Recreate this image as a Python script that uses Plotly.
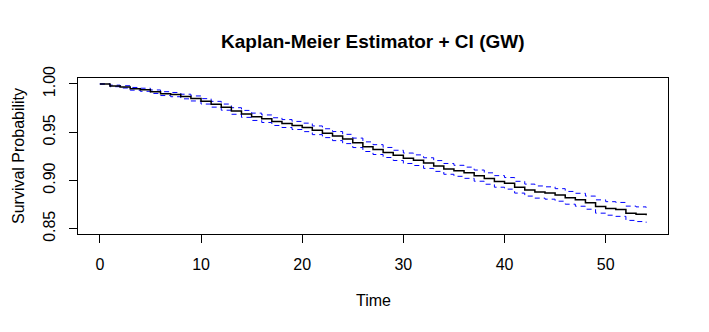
import plotly.graph_objects as go

time = list(range(0, 55))
surv = [1.000, 0.998, 0.997, 0.995, 0.994, 0.992, 0.990, 0.989, 0.987, 0.985,
        0.982, 0.979, 0.976, 0.972, 0.969, 0.966, 0.964, 0.961, 0.959, 0.957,
        0.955, 0.952, 0.949, 0.946, 0.943, 0.939, 0.935, 0.932, 0.929, 0.926,
        0.923, 0.921, 0.918, 0.915, 0.912, 0.910, 0.908, 0.905, 0.902, 0.899,
        0.897, 0.893, 0.890, 0.888, 0.887, 0.885, 0.882, 0.880, 0.877, 0.873,
        0.871, 0.870, 0.866, 0.865, 0.864]
upper = [1.0000, 0.9988, 0.9982, 0.9964, 0.9956, 0.9938, 0.9920, 0.9912, 0.9894, 0.9876,
         0.9848, 0.9820, 0.9792, 0.9754, 0.9726, 0.9698, 0.9679, 0.9650, 0.9631, 0.9612,
         0.9594, 0.9565, 0.9536, 0.9507, 0.9478, 0.9439, 0.9400, 0.9371, 0.9342, 0.9313,
         0.9284, 0.9265, 0.9235, 0.9206, 0.9176, 0.9157, 0.9138, 0.9108, 0.9079, 0.9050,
         0.9030, 0.8991, 0.8962, 0.8943, 0.8934, 0.8915, 0.8886, 0.8867, 0.8838, 0.8799,
         0.8780, 0.8772, 0.8734, 0.8726, 0.8718]
lower = [1.0000, 0.9972, 0.9958, 0.9936, 0.9924, 0.9902, 0.9880, 0.9868, 0.9846, 0.9824,
         0.9792, 0.9760, 0.9728, 0.9686, 0.9654, 0.9622, 0.9601, 0.9570, 0.9549, 0.9528,
         0.9506, 0.9475, 0.9444, 0.9413, 0.9382, 0.9341, 0.9300, 0.9269, 0.9238, 0.9207,
         0.9176, 0.9155, 0.9125, 0.9094, 0.9064, 0.9043, 0.9022, 0.8992, 0.8961, 0.8930,
         0.8910, 0.8869, 0.8838, 0.8817, 0.8806, 0.8785, 0.8754, 0.8733, 0.8702, 0.8661,
         0.8640, 0.8628, 0.8586, 0.8574, 0.8562]

x_ticks = [0, 10, 20, 30, 40, 50]
y_ticks = [0.85, 0.90, 0.95, 1.00]
y_tick_labels = ["0.85", "0.90", "0.95", "1.00"]

FONT = "Liberation Sans, Arial, sans-serif"

# page has an 8px body margin; plot area target in page coords: x 78..668, y 78..234
OFF = 8
PL, PR, PT, PB = 78, 668, 78, 234

fig = go.Figure()
fig.add_trace(go.Scatter(x=time, y=upper, mode="lines", line_shape="hv",
                         line=dict(color="blue", width=1, dash="5px,4px"), showlegend=False))
fig.add_trace(go.Scatter(x=time, y=lower, mode="lines", line_shape="hv",
                         line=dict(color="blue", width=1, dash="5px,4px"), showlegend=False))
fig.add_trace(go.Scatter(x=time, y=surv, mode="lines", line_shape="hv",
                         line=dict(color="black", width=1.5), showlegend=False))

pw, ph = PR - PL, PB - PT
def px_x(x):
    return (x - PL) / pw
def px_y(y):
    return (PB - y) / ph

fig.update_layout(
    width=709 - OFF, height=332 - OFF,
    margin=dict(l=PL - OFF, r=709 - PR, t=PT - OFF, b=332 - PB, autoexpand=False),
    paper_bgcolor="white", plot_bgcolor="white",
    font=dict(family=FONT, size=16, color="black"),
    showlegend=False,
    xaxis=dict(range=[-2.16, 56.16], tickvals=x_ticks, ticks="outside", ticklen=8,
               ticklabelstandoff=8,
               tickcolor="black", showgrid=False, zeroline=False, showline=True,
               linecolor="black", linewidth=1, mirror=True,
               tickfont=dict(family=FONT, size=16, color="black")),
    yaxis=dict(range=[0.8445, 1.0062], tickvals=y_ticks, ticktext=y_tick_labels,
               ticks="outside", ticklen=8, tickangle=-90, ticklabelstandoff=8,
               tickcolor="black", showgrid=False, zeroline=False, showline=True,
               linecolor="black", linewidth=1, mirror=True,
               tickfont=dict(family=FONT, size=16, color="black")),
    annotations=[
        dict(text="<b>Kaplan-Meier Estimator + CI (GW)</b>", x=px_x(373), y=px_y(42),
             xref="paper", yref="paper", showarrow=False, xanchor="center", yanchor="middle",
             font=dict(family=FONT, size=19, color="black")),
        dict(text="Time", x=px_x(373), y=px_y(300), xref="paper", yref="paper",
             showarrow=False, xanchor="center", yanchor="middle",
             font=dict(family=FONT, size=16, color="black")),
        dict(text="Survival Probability", x=px_x(18), y=px_y(156), xref="paper", yref="paper",
             showarrow=False, textangle=-90, xanchor="center", yanchor="middle",
             font=dict(family=FONT, size=16, color="black")),
    ],
)

fig.write_html("out.html")
